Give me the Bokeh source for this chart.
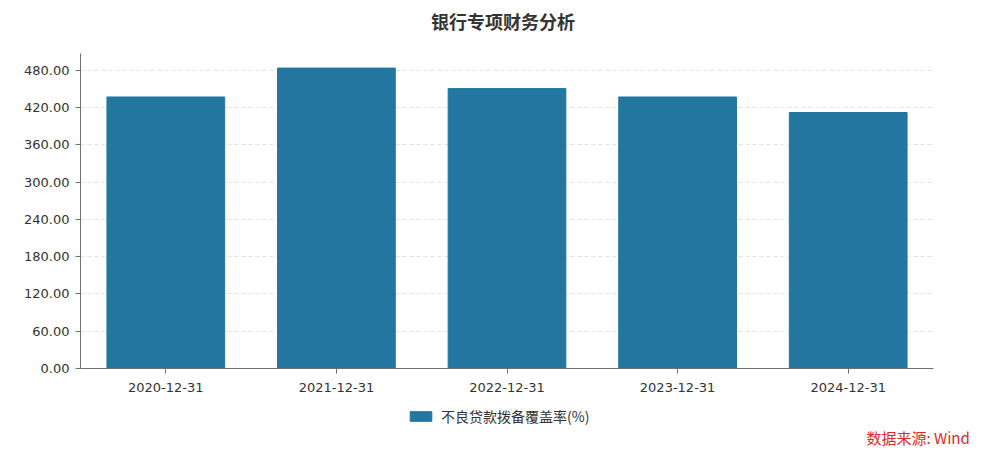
from bokeh.plotting import figure
from bokeh.layouts import column
from bokeh.models import (FixedTicker, PrintfTickFormatter, Legend, LegendItem,
                          Label, ColumnDataSource, Range1d)
from bokeh.embed import file_html
from bokeh.resources import INLINE

categories = ["2020-12-31", "2021-12-31", "2022-12-31", "2023-12-31", "2024-12-31"]
coverage = [437.0, 483.5, 450.5, 437.0, 412.0]
y_ticks = [0, 60, 120, 180, 240, 300, 360, 420, 480]
series_name = "不良贷款拨备覆盖率(%)"
title_text = "银行专项财务分析"
source_text = "数据来源: Wind"

CJK = "Noto Sans CJK SC"
LAT = "DejaVu Sans"
BAR = "#22769f"


def strip(height):
    f = figure(width=1004, height=height, output_backend="svg", toolbar_location=None,
               x_range=Range1d(0, 1), y_range=Range1d(0, 1),
               x_axis_type=None, y_axis_type=None,
               min_border_left=0, min_border_right=0, min_border_top=0,
               min_border_bottom=0)
    f.outline_line_color = None
    f.xgrid.grid_line_color = None
    f.ygrid.grid_line_color = None
    f.frame_align = False
    return f


# title strip
p0 = strip(40)
p0.add_layout(Label(x=502.5, y=20, x_units="screen", y_units="screen", text=title_text,
                    text_font=CJK, text_font_size="18px", text_font_style="bold",
                    text_color="#333333", text_align="center", text_baseline="middle"))

# main chart
src = ColumnDataSource(dict(x=categories, y=coverage))
p = figure(x_range=categories, y_range=(0, 507), width=1004, height=360,
           output_backend="svg", toolbar_location=None,
           min_border_left=80, min_border_right=71, min_border_top=13,
           min_border_bottom=32)
p.outline_line_color = None
p.frame_align = False

r = p.vbar(x="x", top="y", width=0.69, source=src, fill_color=BAR, line_color=BAR)

p.xgrid.grid_line_color = None
p.ygrid.grid_line_color = "#e3e3e3"
p.ygrid.grid_line_dash = "4 3"
p.ygrid.ticker = FixedTicker(ticks=y_ticks)

p.yaxis.ticker = FixedTicker(ticks=y_ticks)
p.yaxis.formatter = PrintfTickFormatter(format="%.2f")
for ax in (p.xaxis[0], p.yaxis[0]):
    ax.axis_line_color = "#6e7079"
    ax.major_tick_line_color = "#6e7079"
    ax.major_tick_out = 5
    ax.major_tick_in = 0
    ax.minor_tick_line_color = None
    ax.major_label_text_font = LAT
    ax.major_label_text_font_size = "13px"
    ax.major_label_text_color = "#333333"
p.yaxis.major_label_standoff = 6
p.xaxis.major_label_standoff = 9

# legend / source strip
p2 = strip(56)
# zero-height stand-in renderer so that the legend swatch carries the bar style
r2 = p2.vbar(x=[0.5], top=[0], bottom=[0], width=0.0, fill_color=BAR,
             line_color=BAR)
legend = Legend(items=[LegendItem(label=series_name, renderers=[r2])],
                orientation="horizontal", location=(407, 30),
                border_line_color=None, background_fill_alpha=0,
                glyph_width=27, glyph_height=12, label_standoff=7,
                label_text_font=CJK, label_text_font_size="14px",
                label_text_color="#333333", padding=4, margin=0)
p2.add_layout(legend, "center")
p2.add_layout(Label(x=866, y=19, x_units="screen", y_units="screen", text=source_text,
                    text_font=CJK, text_font_size="15px", text_color="#dc2b2b",
                    text_baseline="middle"))

layout = column(p0, p, p2, spacing=0)
open("out.html", "w").write(file_html(layout, INLINE))
